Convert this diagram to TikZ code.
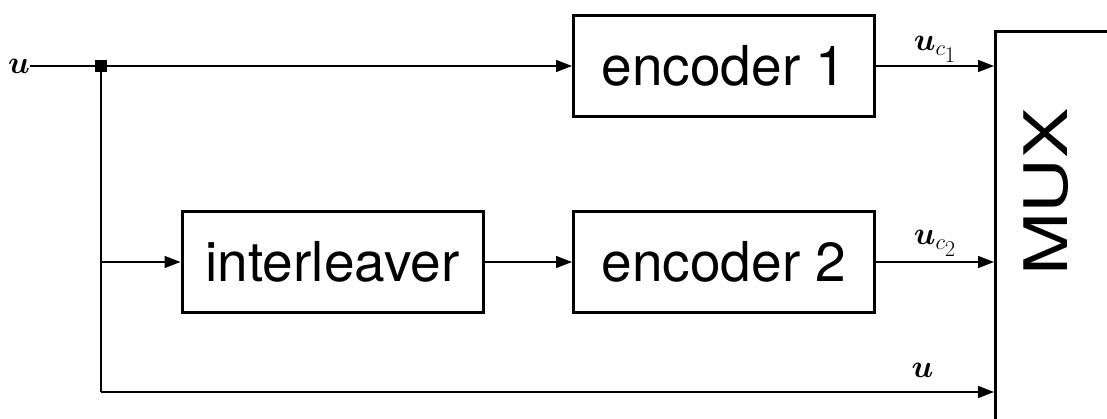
\documentclass[tikz,border=0pt]{standalone}
\usepackage{fix-cm}
\usepackage{amsmath}
\usepackage{fontspec}
\setsansfont{TeX Gyre Heros}
\usetikzlibrary{arrows.meta}
\begin{document}
\begin{tikzpicture}[x=1pt,y=-1pt,
  block/.style={draw,line width=3pt,minimum width=301pt,minimum height=101pt,
    inner sep=0pt,font=\sffamily\fontsize{55}{60}\selectfont},
  wire/.style={line width=1.6pt},
  link/.style={wire,-{Triangle[length=16pt,width=12pt]}},
  sig/.style={inner sep=0pt,font=\fontsize{32}{36}\selectfont}]
\useasboundingbox (0,0) rectangle (1107,419);

% processing blocks
\node[block] (enc1) at (724,66) {encoder 1};
\node[block] (enc2) at (724,262) {encoder 2};
\node[block] (il) at (332.5,262) {interleaver};

% multiplexer, running off the right and bottom edges
\begin{scope}
  \clip (0,0) rectangle (1107,419);
  \node[draw,line width=3pt,minimum width=300pt,minimum height=500pt,
    inner sep=0pt,anchor=north west] (mux) at (994,30) {};
\end{scope}
\node[rotate=90,font=\sffamily\fontsize{60}{64}\selectfont,inner sep=0pt]
  (muxlabel) at (1046,192) {\scalebox{1.26}[1]{MUX}};

% input and branch point
\node[sig,anchor=east] (uin) at (30,66) {$\boldsymbol{u}$};
\node[fill,minimum size=12pt,inner sep=0pt] (j) at (101,66) {};
\coordinate (jm) at (101,262);
\coordinate (jb) at (101,392);

\draw[wire] (uin.east) -- (j);
\draw[wire] (j.center) -- (jb);
\draw[link] (j) -- (enc1.west);
\draw[link] (jm) -- (il.west);
\draw[link] (il.east) -- (enc2.west);

% outputs into the multiplexer
\draw[link] (enc1.east) -- (enc1.east -| mux.west)
  node[sig,midway,anchor=base,yshift=15pt] (l1)
  {$\boldsymbol{u}_{c_{\scriptstyle 1}}$};
\draw[link] (enc2.east) -- (enc2.east -| mux.west)
  node[sig,midway,anchor=base,yshift=17pt] (l2)
  {$\boldsymbol{u}_{c_{\scriptstyle 2}}$};
\draw[link] (jb) -- (jb -| mux.west)
  node[sig,pos=0.92,anchor=base,yshift=15pt] (l3) {$\boldsymbol{u}$};
\end{tikzpicture}
\end{document}
